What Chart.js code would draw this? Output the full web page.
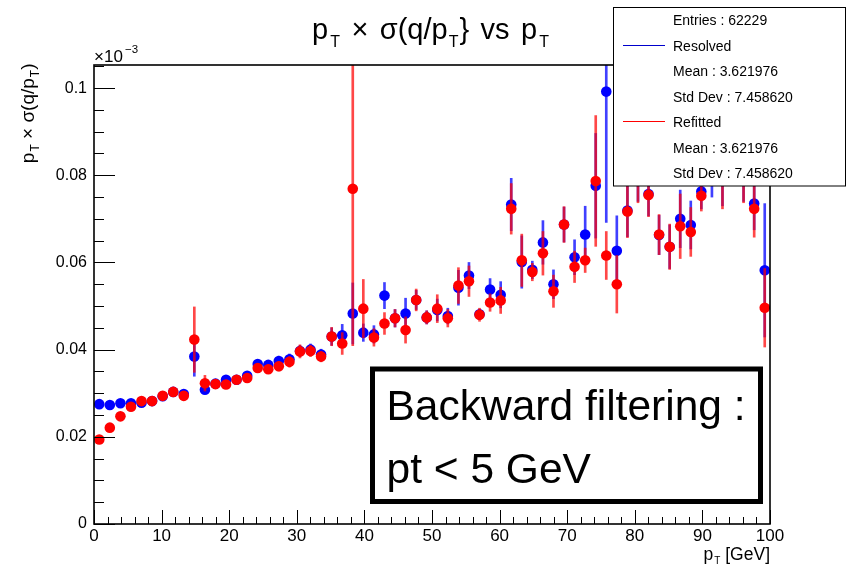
<!DOCTYPE html>
<html>
<head>
<meta charset="utf-8">
<script src="https://cdn.jsdelivr.net/npm/chart.js@4.4.1/dist/chart.umd.min.js"></script>
<style>html,body{margin:0;padding:0;background:#fff;}canvas{display:block;}</style>
</head>
<body>
<canvas id="c" width="846" height="567"></canvas>
<script>
// ---------------- data ----------------
const X_MIN = 0, X_MAX = 100;
const Y_MIN = 0, Y_MAX = 0.1053;
const X_TICKS = [0, 10, 20, 30, 40, 50, 60, 70, 80, 90, 100];
const X_TICK_LABELS = ['0', '10', '20', '30', '40', '50', '60', '70', '80', '90', '100'];
const Y_TICKS = [0, 0.02, 0.04, 0.06, 0.08, 0.1];
const Y_TICK_LABELS = ['0', '0.02', '0.04', '0.06', '0.08', '0.1'];
const X_MINOR_STEP = 2;
const Y_MINOR_STEP = 0.005;

// bin centres (GeV), 64 bins over 0-100
const BIN_CENTERS = [0.78, 2.34, 3.91, 5.47, 7.03, 8.59, 10.16, 11.72, 13.28, 14.84, 16.41, 17.97, 19.53, 21.09, 22.66, 24.22,
  25.78, 27.34, 28.91, 30.47, 32.03, 33.59, 35.16, 36.72, 38.28, 39.84, 41.41, 42.97, 44.53, 46.09, 47.66, 49.22,
  50.78, 52.34, 53.91, 55.47, 57.03, 58.59, 60.16, 61.72, 63.28, 64.84, 66.41, 67.97, 69.53, 71.09, 72.66, 74.22,
  75.78, 77.34, 78.91, 80.47, 82.03, 83.59, 85.16, 86.72, 88.28, 89.84, 91.41, 92.97, 94.53, 96.09, 97.66, 99.22];

const RESOLVED = [
  0.0275, 0.0273, 0.0277, 0.0277, 0.0278, 0.0282, 0.0293, 0.0303, 0.0298, 0.0384,
  0.0308, 0.0322, 0.0331, 0.0331, 0.0340, 0.0367, 0.0365, 0.0374, 0.0378, 0.0397,
  0.0400, 0.0389, 0.0430, 0.0433, 0.0483, 0.0439, 0.0435, 0.0524, 0.0472, 0.0483,
  0.0514, 0.0474, 0.0491, 0.0477, 0.0542, 0.0570, 0.0481, 0.0538, 0.0526, 0.0733,
  0.0601, 0.0583, 0.0646, 0.0550, 0.0687, 0.0612, 0.0664, 0.0776, 0.0992, 0.0627,
  0.0719, 0.0805, 0.0757, 0.0663, 0.0636, 0.0700, 0.0686, 0.0763, 0.0950, 0.0810,
  0.0870, 0.0815, 0.0735, 0.0582];
const RESOLVED_ERR = [
  0.0003, 0.0003, 0.0003, 0.0003, 0.0003, 0.0003, 0.0004, 0.0004, 0.0005, 0.0045,
  0.0008, 0.0008, 0.0008, 0.0009, 0.0009, 0.0010, 0.0010, 0.0011, 0.0012, 0.0013,
  0.0013, 0.0012, 0.0020, 0.0025, 0.0070, 0.0020, 0.0020, 0.0030, 0.0020, 0.0035,
  0.0022, 0.0015, 0.0025, 0.0018, 0.0040, 0.0030, 0.0012, 0.0025, 0.0030, 0.0060,
  0.0060, 0.0020, 0.0050, 0.0033, 0.0040, 0.0040, 0.0065, 0.0120, 0.0300, 0.0080,
  0.0060, 0.0065, 0.0050, 0.0045, 0.0050, 0.0066, 0.0055, 0.0040, 0.0200, 0.0080,
  0.0060, 0.0075, 0.0060, 0.0153];
const REFITTED = [
  0.0194, 0.0221, 0.0247, 0.0269, 0.0282, 0.0282, 0.0294, 0.0303, 0.0294, 0.0423,
  0.0323, 0.0321, 0.0320, 0.0331, 0.0335, 0.0358, 0.0355, 0.0362, 0.0372, 0.0396,
  0.0397, 0.0384, 0.0430, 0.0414, 0.0769, 0.0494, 0.0428, 0.0460, 0.0472, 0.0445,
  0.0514, 0.0474, 0.0494, 0.0472, 0.0547, 0.0557, 0.0480, 0.0508, 0.0513, 0.0723,
  0.0605, 0.0578, 0.0621, 0.0534, 0.0687, 0.0590, 0.0605, 0.0787, 0.0616, 0.0550,
  0.0717, 0.0800, 0.0755, 0.0664, 0.0636, 0.0683, 0.0670, 0.0753, 0.0980, 0.0800,
  0.0850, 0.0810, 0.0723, 0.0496];
const REFITTED_ERR = [
  0.0003, 0.0003, 0.0003, 0.0003, 0.0003, 0.0003, 0.0004, 0.0004, 0.0005, 0.0075,
  0.0018, 0.0008, 0.0008, 0.0009, 0.0009, 0.0010, 0.0010, 0.0011, 0.0012, 0.0015,
  0.0013, 0.0012, 0.0021, 0.0025, 0.0360, 0.0067, 0.0020, 0.0025, 0.0020, 0.0030,
  0.0025, 0.0015, 0.0032, 0.0020, 0.0041, 0.0035, 0.0015, 0.0020, 0.0030, 0.0058,
  0.0060, 0.0020, 0.0050, 0.0037, 0.0041, 0.0036, 0.0028, 0.0150, 0.0055, 0.0066,
  0.0060, 0.0063, 0.0050, 0.0046, 0.0052, 0.0074, 0.0056, 0.0035, 0.0200, 0.0077,
  0.0050, 0.0073, 0.0065, 0.0090];

const STATS_LINES = ['Entries : 62229', 'Resolved', 'Mean : 3.621976', 'Std Dev : 7.458620',
  'Refitted', 'Mean : 3.621976', 'Std Dev : 7.458620'];
const NOTE_LINES = ['Backward filtering :', 'pt < 5 GeV'];

// ---------------- styling ----------------
const FAM = '"Liberation Sans", Arial, Helvetica, sans-serif';
const font = px => px + 'px ' + FAM;
const BLUE = '#0000ff', RED = '#ff0000';

const points = (vals) => BIN_CENTERS.map((x, i) => ({ x: x, y: vals[i] }));
const errs = (vals, e) => BIN_CENTERS.map((x, i) => ({ x: x, y: [vals[i] - e[i], vals[i] + e[i]] }));

function drawSegs(ctx, segs, x, y, o) {
  const ws = segs.map(s => { ctx.font = font(s.sub ? o.sub : o.main); return ctx.measureText(s.t).width; });
  let fixed = 0, nStretch = 0;
  segs.forEach((s, i) => { fixed += ws[i] + (s.pre || 0); if (s.st) nStretch++; });
  const stretch = (o.width && nStretch) ? (o.width - fixed) / nStretch : (o.gap || 0);
  const total = fixed + stretch * nStretch;
  let cx = o.align === 'right' ? x - total : (o.align === 'center' ? x - total / 2 : x);
  ctx.textAlign = 'left'; ctx.textBaseline = 'alphabetic';
  segs.forEach((s, i) => {
    cx += (s.pre || 0) + (s.st ? stretch : 0);
    ctx.font = font(s.sub ? o.sub : o.main);
    ctx.fillText(s.t, cx, y + (s.sub ? o.dy : 0));
    cx += ws[i];
  });
}

const decor = {
  id: 'rootDecor',
  afterDraw(chart) {
    const ctx = chart.ctx, a = chart.chartArea, xs = chart.scales.x, ys = chart.scales.y;
    ctx.save();
    ctx.fillStyle = '#000'; ctx.strokeStyle = '#000';
    // ticks (inside, ROOT style)
    ctx.lineWidth = 1;
    ctx.beginPath();
    for (let v = X_MIN; v <= X_MAX + 1e-9; v += X_MINOR_STEP) {
      const px = Math.round(xs.getPixelForValue(v)) + 0.5;
      const major = X_TICKS.some(t => Math.abs(t - v) < 1e-6);
      ctx.moveTo(px, a.bottom); ctx.lineTo(px, a.bottom - (major ? 14 : 7));
    }
    for (let v = Y_MIN; v <= Y_MAX + 1e-9; v += Y_MINOR_STEP) {
      const py = Math.round(ys.getPixelForValue(v)) + 0.5;
      const major = Y_TICKS.some(t => Math.abs(t - v) < 1e-6);
      ctx.moveTo(a.left, py); ctx.lineTo(a.left + (major ? 21 : 10), py);
    }
    ctx.stroke();
    // frame
    ctx.lineWidth = 1.6;
    ctx.strokeRect(a.left, a.top, a.right - a.left, a.bottom - a.top);

    // exponent label
    ctx.textAlign = 'left'; ctx.textBaseline = 'alphabetic';
    ctx.font = font(17); ctx.fillText('\u00d710', a.left, 61.5);
    ctx.font = font(11.5); ctx.fillText('\u22123', a.left + 31, 53);

    // title
    drawSegs(ctx, [
      { t: 'p' }, { t: 'T', sub: 1, pre: 2 }, { t: '\u00d7', st: 1 }, { t: '\u03c3(q/p', st: 1 },
      { t: 'T', sub: 1, pre: 1 }, { t: '}', pre: 1 }, { t: 'vs', st: 1 }, { t: 'p', st: 1 }, { t: 'T', sub: 1, pre: 2 }
    ], 312, 38.7, { main: 29, sub: 16, dy: 8.5, width: 237, align: 'left' });

    // y axis title (rotated)
    ctx.save();
    ctx.translate(33.5, 63.5);
    ctx.rotate(-Math.PI / 2);
    drawSegs(ctx, [{ t: 'p' }, { t: 'T', sub: 1, pre: 1 }, { t: ' \u00d7 \u03c3(q/p' }, { t: 'T', sub: 1, pre: 1 }, { t: ')' }],
      0, 0, { main: 19, sub: 12, dy: 5, align: 'right' });
    ctx.restore();

    // x axis title
    drawSegs(ctx, [{ t: 'p' }, { t: 'T', sub: 1, pre: 1 }, { t: ' [GeV]' }], a.right, 560,
      { main: 17.5, sub: 10, dy: 4, align: 'right' });

    // note box
    ctx.fillStyle = '#fff';
    ctx.fillRect(372.5, 369, 388, 132.5);
    ctx.lineWidth = 5; ctx.strokeStyle = '#000';
    ctx.strokeRect(372.5, 369, 388, 132.5);
    ctx.fillStyle = '#000';
    ctx.font = font(42.5);
    ctx.fillText(NOTE_LINES[0], 386.5, 420);
    ctx.fillText(NOTE_LINES[1], 386.5, 483);

    // stats box
    ctx.fillStyle = '#fff';
    ctx.fillRect(613.5, 7.5, 232, 178.5);
    ctx.lineWidth = 1; ctx.strokeStyle = '#000';
    ctx.strokeRect(613.5, 7.5, 232, 178.5);
    const base = [25, 50.5, 76, 101.5, 127, 152.5, 178];
    ctx.fillStyle = '#000'; ctx.font = font(14);
    STATS_LINES.forEach((t, i) => ctx.fillText(t, 673, base[i]));
    ctx.fillStyle = '#0000cc'; ctx.fillRect(623, 45, 42, 1);
    ctx.fillStyle = RED; ctx.fillRect(623, 121, 42, 1);
    ctx.restore();
  }
};

new Chart(document.getElementById('c'), {
  type: 'scatter',
  data: {
    datasets: [
      { type: 'bar', label: 'Resolved err', data: errs(RESOLVED, RESOLVED_ERR), backgroundColor: 'rgba(0,0,255,0.75)',
        borderWidth: 0, barThickness: 2, grouped: false, order: 4, clip: 0 },
      { type: 'scatter', label: 'Resolved', data: points(RESOLVED), backgroundColor: BLUE, pointRadius: 5.3,
        borderWidth: 0, order: 3, clip: 0 },
      { type: 'bar', label: 'Refitted err', data: errs(REFITTED, REFITTED_ERR), backgroundColor: 'rgba(255,0,0,0.72)',
        borderWidth: 0, barThickness: 2, grouped: false, order: 2, clip: 0 },
      { type: 'scatter', label: 'Refitted', data: points(REFITTED), backgroundColor: RED, pointRadius: 5.3,
        borderWidth: 0, order: 1, clip: 0 }
    ]
  },
  options: {
    responsive: false, animation: false, devicePixelRatio: 1, events: [],
    layout: { padding: { top: 65, right: 76, bottom: 0, left: 0 } },
    plugins: { legend: { display: false }, tooltip: { enabled: false }, title: { display: false } },
    scales: {
      x: {
        type: 'linear', min: X_MIN, max: X_MAX, offset: false,
        grid: { display: false, drawTicks: false }, border: { display: false },
        afterBuildTicks: s => { s.ticks = X_TICKS.map(v => ({ value: v })); },
        afterFit: s => { s.height = 43; },
        ticks: { autoSkip: false, maxRotation: 0, padding: 2, color: '#000', font: { family: FAM, size: 17 },
          callback: (v, i) => X_TICK_LABELS[i] }
      },
      y: {
        type: 'linear', min: Y_MIN, max: Y_MAX,
        grid: { display: false, drawTicks: false }, border: { display: false },
        afterBuildTicks: s => { s.ticks = Y_TICKS.map(v => ({ value: v })); },
        afterFit: s => { s.width = 94; },
        ticks: { autoSkip: false, padding: 7, color: '#000', font: { family: FAM, size: 16 },
          callback: (v, i) => Y_TICK_LABELS[i] }
      }
    }
  },
  plugins: [decor]
});
</script>
</body>
</html>
